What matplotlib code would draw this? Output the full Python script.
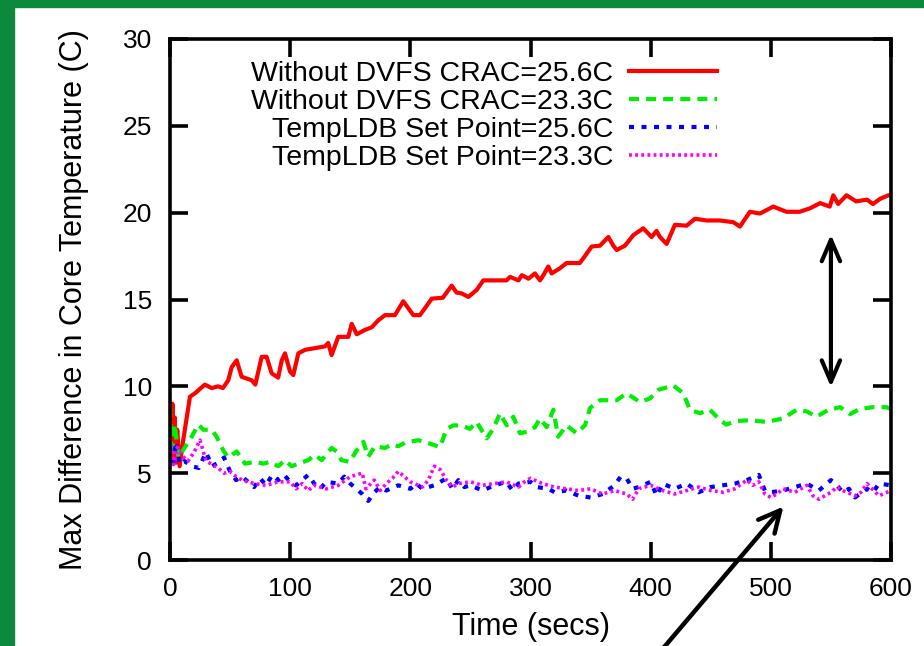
import matplotlib
matplotlib.use("Agg")
import matplotlib.pyplot as plt
from matplotlib.patches import Rectangle

plt.rcParams['font.family'] = ['Liberation Sans', 'DejaVu Sans']

# red: Without DVFS CRAC=25.6C
t_red = [0, 1, 2, 3, 4, 5, 6, 8, 11, 16.6, 20.8, 29, 34.7, 40, 44, 48.5, 51.3, 55.5, 59.6, 68, 71,
         76.3, 80.4, 84.6, 90, 93, 95.7, 99.9, 102.6, 106.8, 112.3, 120.6, 129, 131.6, 134.5, 140,
         148.4, 151.2, 155.4, 162.3, 167.9, 173.3, 178.9, 187.2, 194.1, 202.5, 208, 212.2, 217.8,
         227, 234.4, 238.5, 242.7, 248.3, 255.2, 260.7, 269, 280, 283, 290, 292.8, 298.3, 303.7,
         307.9, 310.7, 314.8, 317.6, 324.5, 330, 341, 345.3, 350.9, 357.8, 364.8, 368.9, 371.7,
         378.6, 385.5, 393.8, 400.8, 404.9, 407.7, 413.3, 420.2, 429.9, 436.9, 446.6, 457.7, 468.8,
         474.3, 482.6, 491, 502, 513, 524, 532.6, 541, 549, 552, 556, 563, 571, 580, 585, 591, 597.8, 600]
y_red = [8.5, 6.3, 9.0, 6.0, 8.2, 5.6, 7.5, 5.4, 6.9, 9.4, 9.6, 10.1, 9.9, 10.0, 9.9, 10.35, 11.1, 11.5,
         10.55, 10.35, 10.1, 11.7, 11.7, 10.75, 10.5, 11.5, 11.9, 10.85, 10.65, 11.9, 12.1, 12.2, 12.3,
         12.5, 11.8, 12.85, 12.85, 13.6, 13.0, 13.25, 13.4, 13.8, 14.1, 14.1, 14.9, 14.1, 14.1, 14.5,
         15.05, 15.1, 15.8, 15.4, 15.35, 15.15, 15.55, 16.1, 16.1, 16.1, 16.3, 16.1, 16.4, 16.2, 16.5,
         16.1, 16.4, 16.9, 16.5, 16.8, 17.1, 17.1, 17.5, 18.05, 18.1, 18.6, 18.1, 17.85, 18.1, 18.7,
         19.1, 18.6, 18.95, 18.6, 18.2, 19.3, 19.25, 19.65, 19.55, 19.55, 19.45, 19.2, 20.05, 19.95,
         20.35, 20.05, 20.05, 20.25, 20.55, 20.35, 21.0, 20.5, 21.0, 20.65, 20.75, 20.5, 20.8, 21.0, 21.0]

# green: Without DVFS CRAC=23.3C
t_green = [0, 1, 2.8, 4, 7, 12.5, 18, 23.6, 27.7, 34.7, 38.8, 44.4, 48.5, 55.5, 62.4, 70.7, 77.6, 83.2,
           90.1, 95.7, 101.2, 106.8, 115, 120.6, 126.2, 134.5, 138.6, 142.7, 149.6, 155.2, 160.9, 165,
           170.6, 178.9, 184.4, 190, 195.5, 206.7, 216.3, 224.7, 230.2, 235.8, 242.7, 249.6, 255.2,
           263.5, 269, 274.6, 280.2, 285.7, 291.2, 298.2, 303.7, 307.9, 313.4, 319, 323, 330, 338.3,
           345.3, 349.5, 357.8, 364.8, 371.7, 380, 391, 399.4, 406.4, 418.8, 427.2, 432.7, 441, 449.3,
           457.7, 463, 471, 482.6, 496.4, 510, 521.5, 530, 538, 548, 557.7, 566, 574, 585, 596, 600]
y_green = [8.8, 5.5, 6.7, 7.8, 5.9, 6.5, 7.1, 7.8, 7.5, 7.5, 7.1, 6.3, 5.9, 6.25, 5.55, 5.65, 5.55, 5.65,
           5.4, 5.75, 5.4, 5.55, 5.75, 6.05, 5.75, 6.45, 6.25, 5.75, 5.65, 6.3, 6.8, 5.95, 6.55, 6.45,
           6.65, 6.55, 6.75, 6.9, 6.7, 6.5, 7.55, 7.75, 7.75, 7.55, 7.95, 7.0, 7.55, 8.45, 7.75, 8.25,
           7.3, 7.4, 7.65, 8.15, 7.65, 8.65, 7.1, 7.75, 7.3, 7.75, 8.75, 9.2, 9.2, 9.2, 9.6, 9.1, 9.3,
           9.8, 10.05, 9.6, 8.65, 8.45, 8.65, 8.05, 7.8, 8.0, 8.05, 7.95, 8.15, 8.65, 8.55, 8.25, 8.65,
           8.8, 8.4, 8.7, 8.8, 8.8, 8.7]

# blue: TempLDB Set Point=25.6C
t_blue = [0, 2, 5, 8, 12, 18, 24, 30, 35, 40, 45, 50, 55, 60, 65, 70, 75, 80, 85, 90, 95, 100, 105,
          110, 115, 120, 125, 130, 140, 145, 150, 160, 165, 170, 175, 180, 190, 200, 205, 210, 220,
          230, 235, 240, 245, 250, 260, 270, 280, 285, 290, 300, 305, 315, 320, 330, 340, 350, 360,
          370, 375, 380, 385, 390, 400, 405, 410, 420, 430, 440, 450, 460, 470, 480, 490, 495, 500,
          510, 520, 530, 540, 550, 555, 560, 565, 570, 580, 585, 590, 600]
y_blue = [6.5, 5.3, 6.8, 5.5, 5.7, 5.4, 5.3, 6.2, 5.4, 5.6, 5.9, 5.1, 4.6, 4.8, 4.5, 4.2, 4.7, 4.3,
          4.9, 4.6, 4.9, 4.5, 4.3, 4.6, 4.9, 4.4, 4.1, 4.5, 4.4, 4.8, 4.4, 3.8, 3.4, 3.9, 4.2, 4.0,
          4.3, 4.1, 4.4, 4.1, 4.3, 4.7, 4.1, 4.6, 4.2, 4.3, 4.0, 4.3, 4.5, 4.0, 4.4, 4.5, 4.2, 4.1,
          3.9, 4.0, 3.7, 3.6, 3.8, 4.3, 4.8, 4.7, 4.1, 4.2, 4.5, 3.7, 4.4, 4.1, 4.4, 3.9, 4.2, 4.3,
          4.4, 4.6, 4.9, 4.0, 3.9, 4.0, 4.2, 4.4, 4.0, 4.6, 4.3, 3.9, 4.1, 3.6, 4.1, 3.9, 4.4, 4.3]

# magenta: TempLDB Set Point=23.3C
t_mag = [0, 3, 6, 10, 15, 20, 25, 30, 35, 40, 45, 50, 55, 60, 70, 80, 90, 100, 105, 110, 115, 120,
         130, 140, 150, 160, 163, 170, 175, 180, 185, 190, 195, 200, 210, 215, 220, 225, 230, 235,
         240, 250, 260, 270, 280, 290, 295, 300, 310, 320, 330, 340, 350, 360, 370, 380, 385, 390,
         400, 410, 420, 430, 440, 450, 460, 470, 480, 485, 490, 495, 500, 505, 510, 520, 530, 535,
         540, 550, 555, 560, 570, 575, 580, 590, 600]
y_mag = [7.0, 5.5, 6.5, 6.0, 5.7, 6.2, 6.9, 5.7, 5.5, 5.3, 5.0, 5.1, 4.8, 4.6, 4.4, 4.3, 4.5, 4.5,
         4.1, 4.4, 4.0, 4.3, 4.1, 4.3, 4.8, 5.0, 4.1, 4.6, 4.0, 4.4, 4.7, 5.1, 4.8, 4.5, 4.2, 4.6,
         5.4, 5.2, 4.6, 4.2, 4.4, 4.5, 4.3, 4.4, 4.5, 4.2, 4.5, 4.7, 4.4, 4.2, 4.1, 4.0, 4.1, 3.8,
         4.0, 3.8, 3.5, 4.1, 4.3, 4.0, 3.8, 4.0, 4.2, 4.0, 3.9, 4.1, 4.6, 4.3, 4.5, 3.8, 3.6, 3.8,
         4.1, 3.9, 4.3, 3.7, 3.5, 3.9, 4.2, 4.0, 3.7, 3.9, 4.4, 3.7, 4.0]

labels = ['Without DVFS CRAC=25.6C', 'Without DVFS CRAC=23.3C',
          'TempLDB Set Point=25.6C', 'TempLDB Set Point=23.3C']

fig = plt.figure(figsize=(9.24, 6.46), dpi=100)
# slide background strips
fig.patches.append(Rectangle((0, 0), 14 / 924, 1, transform=fig.transFigure,
                             color='#0b8a3d', zorder=-1))
fig.patches.append(Rectangle((0, 1 - 7 / 646), 1, 7 / 646, transform=fig.transFigure,
                             color='#0b8a3d', zorder=-1))

ax = fig.add_axes([170 / 924, 86 / 646, 721 / 924, 521 / 646])

ax.plot(t_red, y_red, color='#ff0000', lw=3.0, label=labels[0])
ax.plot(t_green, y_green, color='#00ee00', lw=3.0, dashes=(2.4, 1.7), label=labels[1])
ax.plot(t_blue, y_blue, color='#0000ff', lw=3.0, dashes=(1.2, 1.8), label=labels[2])
ax.plot(t_mag, y_mag, color='#ff00ff', lw=2.6, dashes=(0.8, 0.9), label=labels[3])

ax.set_xlim(0, 600)
ax.set_ylim(0, 30)
ax.set_xticks(range(0, 601, 100))
ax.set_yticks(range(0, 31, 5))
for s in ax.spines.values():
    s.set_linewidth(2.6)
ax.tick_params(direction='in', length=13, width=2.6, labelsize=19,
               top=True, right=True)
ax.tick_params(axis='y', pad=13)
ax.tick_params(axis='x', pad=12)

ax.set_xlabel('Time (secs)', fontsize=22, labelpad=8)
ax.set_ylabel('Max Difference in Core Temperature (C)', fontsize=22, labelpad=24)

leg = ax.legend(loc='upper right', bbox_to_anchor=(0.759, 0.958), frameon=False,
                markerfirst=False, fontsize=20.5, handlelength=3.1, handletextpad=0.55,
                labelspacing=0.07, borderpad=0, borderaxespad=0)
for col in leg._legend_handle_box.get_children():
    col.align = 'right'

# arrows drawn on the slide
ax.annotate('', xy=(550, 18.9), xytext=(550, 9.8),
            arrowprops=dict(arrowstyle='<->, head_length=0.7, head_width=0.3',
                            lw=3, color='black', mutation_scale=22))
ax.annotate('', xy=(512, 3.2), xytext=(393, -6.5), annotation_clip=False,
            arrowprops=dict(arrowstyle='->, head_length=0.7, head_width=0.35',
                            lw=3.2, color='black', mutation_scale=22, clip_on=False))

fig.savefig('out.png', dpi=100)
